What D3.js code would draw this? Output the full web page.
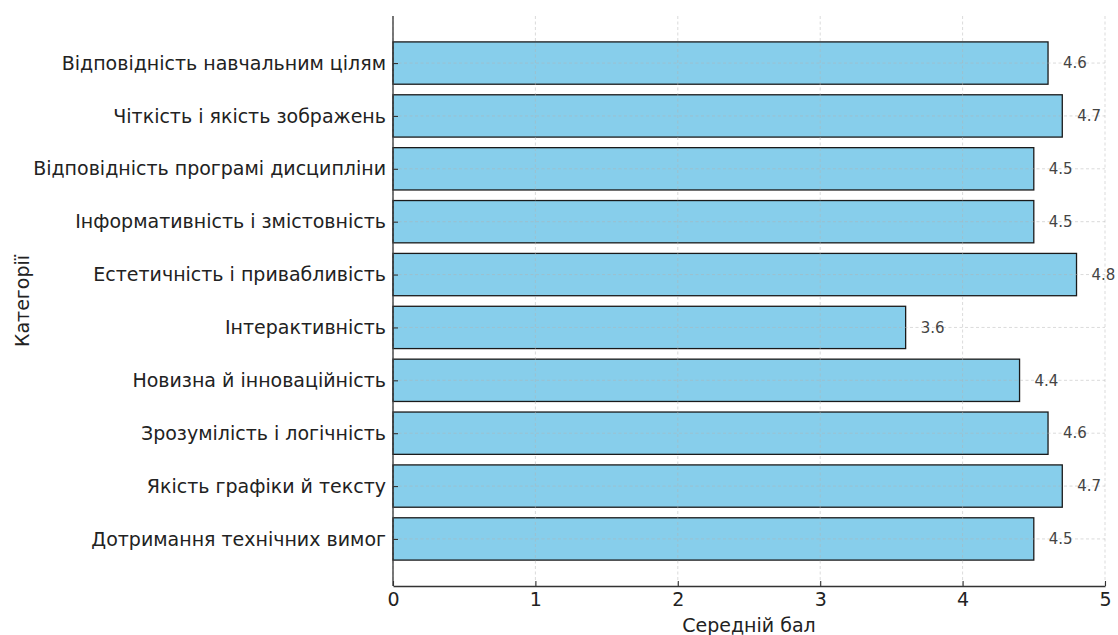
<!DOCTYPE html>
<html>
<head>
<meta charset="utf-8">
<script src="https://cdn.jsdelivr.net/npm/d3@7"></script>
<style>
  html, body { margin: 0; padding: 0; background: #fff; }
  svg { display: block; font-family: "DejaVu Sans", sans-serif; }
</style>
</head>
<body>
<svg id="chart" width="1118" height="635"></svg>
<script>
// Categories, top to bottom
const categories = [
  "Відповідність навчальним цілям",
  "Чіткість і якість зображень",
  "Відповідність програмі дисципліни",
  "Інформативність і змістовність",
  "Естетичність і привабливість",
  "Інтерактивність",
  "Новизна й інноваційність",
  "Зрозумілість і логічність",
  "Якість графіки й тексту",
  "Дотримання технічних вимог"
];
// Average score per category
const scores = [4.6, 4.7, 4.5, 4.5, 4.8, 3.6, 4.4, 4.6, 4.7, 4.5];
const xTicks = [0, 1, 2, 3, 4, 5];
const xTitle = "Середній бал";
const yTitle = "Категорії";

const svg = d3.select("#chart");
const plotL = 393, plotR = 1105, plotT = 16, plotB = 586;

const x = d3.scaleLinear().domain([0, 5]).range([plotL, plotR]);
// Bar centres with 0.8 bar height and ~0.49 units of padding at each end
const n = categories.length;
const pad = 0.49;
const yPos = d3.scaleLinear().domain([-0.4 - pad, n - 1 + 0.4 + pad]).range([plotT, plotB]);
const barH = yPos(0.4) - yPos(-0.4);

// Bars
svg.append("g").selectAll("rect")
  .data(categories)
  .join("rect")
  .attr("x", x(0))
  .attr("y", (d, i) => yPos(i) - barH / 2)
  .attr("width", (d, i) => x(scores[i]) - x(0))
  .attr("height", barH)
  .attr("fill", "#87CEEB")
  .attr("stroke", "#1a1a1a")
  .attr("stroke-width", 1.3);

// Dashed grid, drawn over the bars
const grid = svg.append("g")
  .attr("stroke", "#b0b0b0")
  .attr("stroke-opacity", 0.6)
  .attr("stroke-width", 0.8)
  .attr("stroke-dasharray", "3,2.5");
grid.selectAll("line.v")
  .data(xTicks)
  .join("line")
  .attr("class", "v")
  .attr("x1", d => x(d)).attr("x2", d => x(d))
  .attr("y1", plotT).attr("y2", plotB);
grid.selectAll("line.h")
  .data(categories)
  .join("line")
  .attr("class", "h")
  .attr("x1", plotL).attr("x2", plotR)
  .attr("y1", (d, i) => yPos(i)).attr("y2", (d, i) => yPos(i));

// Value labels
svg.append("g").selectAll("text")
  .data(scores)
  .join("text")
  .attr("x", d => x(d) + 15)
  .attr("y", (d, i) => yPos(i))
  .attr("dy", "0.35em")
  .attr("font-size", 15)
  .attr("fill", "#444")
  .text(d => d.toFixed(1));

// Bottom axis with inward ticks
const xAxis = d3.axisBottom(x).tickValues(xTicks).tickFormat(d3.format("d"))
  .tickSizeInner(-5).tickSizeOuter(0).tickPadding(7);
const gx = svg.append("g").attr("transform", `translate(0,${plotB})`).call(xAxis);
gx.select(".domain").attr("stroke", "#333").attr("stroke-width", 1.3);
gx.selectAll(".tick line").attr("stroke", "#333").attr("stroke-width", 1.1);
gx.selectAll(".tick text").attr("font-size", 19).attr("fill", "#222")
  .attr("font-family", "DejaVu Sans, sans-serif");

// Left axis with inward ticks
const yPoint = d3.scalePoint().domain(categories)
  .range([yPos(0), yPos(n - 1)]);
const yAxis = d3.axisLeft(yPoint).tickSizeInner(-5).tickSizeOuter(0).tickPadding(7);
const gy = svg.append("g").attr("transform", `translate(${plotL},0)`).call(yAxis);
gy.select(".domain").attr("d", `M0,${plotT}V${plotB}`).attr("stroke", "#333").attr("stroke-width", 1.3);
gy.selectAll(".tick line").attr("stroke", "#333").attr("stroke-width", 1.1);
gy.selectAll(".tick text").attr("font-size", 19).attr("fill", "#222")
  .attr("font-family", "DejaVu Sans, sans-serif");

// Axis titles
svg.append("text")
  .attr("x", (plotL + plotR) / 2)
  .attr("y", 632)
  .attr("text-anchor", "middle")
  .attr("font-size", 19)
  .attr("fill", "#222")
  .text(xTitle);
svg.append("text")
  .attr("transform", `translate(28.5,${(plotT + plotB) / 2}) rotate(-90)`)
  .attr("text-anchor", "middle")
  .attr("font-size", 19)
  .attr("fill", "#222")
  .text(yTitle);
</script>
</body>
</html>
